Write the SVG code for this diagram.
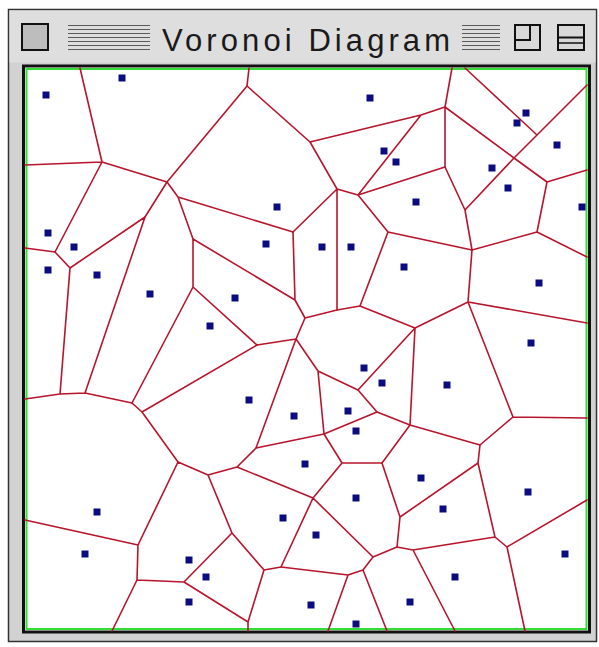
<svg xmlns="http://www.w3.org/2000/svg" width="599" height="647" viewBox="0 0 599 647">
<style>
.edge{stroke:#b8142c;stroke-width:1.6;fill:none;stroke-linecap:round}
.site{fill:#0c0c80}
.stripe{stroke:#5a5a5a;stroke-width:1.2}
.title{font-family:"Liberation Sans","DejaVu Sans",sans-serif;font-size:31px;fill:#1a1a1a}
</style>
<rect x="0" y="0" width="599" height="647" fill="#ffffff"/>
<g id="window">
<rect x="8.5" y="9.5" width="588" height="632" fill="#d2d2d2" stroke="#333" stroke-width="1.5"/>
<rect x="9.5" y="10.5" width="586" height="52" fill="#dedede"/>
<rect x="22" y="24" width="26" height="26" fill="#bdbdbd" stroke="#111" stroke-width="2"/>
<g id="stripes-left">
<line class="stripe" x1="68" y1="25.5" x2="150" y2="25.5"/>
<line class="stripe" x1="68" y1="29.5" x2="150" y2="29.5"/>
<line class="stripe" x1="68" y1="33.5" x2="150" y2="33.5"/>
<line class="stripe" x1="68" y1="37.5" x2="150" y2="37.5"/>
<line class="stripe" x1="68" y1="41.5" x2="150" y2="41.5"/>
<line class="stripe" x1="68" y1="45.5" x2="150" y2="45.5"/>
<line class="stripe" x1="68" y1="49.5" x2="150" y2="49.5"/>
</g>
<text class="title" x="162" y="51" textLength="288" lengthAdjust="spacing">Voronoi Diagram</text>
<g id="stripes-right">
<line class="stripe" x1="462" y1="25.5" x2="500" y2="25.5"/>
<line class="stripe" x1="462" y1="29.5" x2="500" y2="29.5"/>
<line class="stripe" x1="462" y1="33.5" x2="500" y2="33.5"/>
<line class="stripe" x1="462" y1="37.5" x2="500" y2="37.5"/>
<line class="stripe" x1="462" y1="41.5" x2="500" y2="41.5"/>
<line class="stripe" x1="462" y1="45.5" x2="500" y2="45.5"/>
<line class="stripe" x1="462" y1="49.5" x2="500" y2="49.5"/>
</g>
<rect x="515" y="25" width="25" height="25" fill="#d8d8d8" stroke="#111" stroke-width="2"/>
<rect x="515" y="25" width="15" height="15" fill="none" stroke="#111" stroke-width="2"/>
<rect x="558" y="25" width="26" height="25" fill="#d8d8d8" stroke="#111" stroke-width="2"/>
<line x1="558" y1="37.5" x2="584" y2="37.5" stroke="#111" stroke-width="2"/>
<line x1="558" y1="43" x2="584" y2="43" stroke="#111" stroke-width="1.5"/>
<rect x="23.5" y="66" width="566" height="566" fill="#ffffff" stroke="#111" stroke-width="3"/>
<rect x="26.5" y="69" width="560" height="560" fill="#ffffff" stroke="#33dd33" stroke-width="2"/>
</g>
<g id="edges">
<path class="edge" d="M80,68 L102,162 M25,165 L102,162 M102,162 L167,182 M102,162 L55,252 M167,182 L247,86 M247,86 L249,68 M167,182 L178,197 M167,182 L145,217 M178,197 L293,232 M178,197 L193,239"/>
<path class="edge" d="M247,86 L310,142 M310,142 L421,115 M421,115 L445,107 M310,142 L337,189 M337,189 L293,232 M337,189 L358,195 M337,189 L337,310 M358,195 L421,115 M358,195 L445,167 M358,195 L388,232 M388,232 L360,306 M388,232 L472,250"/>
<path class="edge" d="M293,232 L295,300 M193,239 L295,300 M193,239 L193,287 M193,287 L132,403 M193,287 L257,345 M295,300 L305,318 M305,318 L337,310 M305,318 L296,339 M337,310 L360,306 M360,306 L415,328"/>
<path class="edge" d="M445,107 L452,68 M445,107 L445,167 M445,107 L514,158 M445,167 L465,210 M465,210 L514,158 M465,210 L472,250 M465,68 L537,135 M537,135 L587,85 M537,135 L514,158 M514,158 L547,182 M547,182 L587,170 M547,182 L537,232 M537,232 L472,250 M537,232 L587,257"/>
<path class="edge" d="M472,250 L468,302 M468,302 L587,323 M468,302 L415,328 M468,302 L513,417 M415,328 L358,390 M415,328 L410,425 M513,417 L587,418 M513,417 L480,445 M410,425 L377,412 M410,425 L382,463 M410,425 L480,445"/>
<path class="edge" d="M55,252 L25,248 M55,252 L70,268 M145,217 L70,268 M145,217 L85,393 M70,268 L60,394 M60,394 L25,399 M60,394 L85,393 M85,393 L132,403 M132,403 L142,412 M142,412 L257,345 M142,412 L178,462"/>
<path class="edge" d="M257,345 L296,339 M296,339 L318,371 M296,339 L256,448 M318,371 L358,390 M318,371 L324,434 M358,390 L377,412 M377,412 L324,434 M324,434 L256,448 M324,434 L342,463 M342,463 L382,463 M342,463 L313,498"/>
<path class="edge" d="M256,448 L237,467 M237,467 L208,475 M237,467 L313,498 M208,475 L178,462 M208,475 L232,533 M178,462 L138,545 M138,545 L25,520 M138,545 L137,580 M137,580 L184,582 M137,580 L112,631 M184,582 L232,533 M184,582 L248,622 M232,533 L264,570 M264,570 L281,567 M264,570 L248,622 M248,622 L248,631"/>
<path class="edge" d="M313,498 L281,567 M313,498 L373,557 M281,567 L348,575 M348,575 L363,570 M348,575 L328,631 M363,570 L373,557 M363,570 L387,631 M373,557 L397,547"/>
<path class="edge" d="M382,463 L400,517 M400,517 L397,547 M400,517 L478,463 M478,463 L480,445 M478,463 L495,537 M495,537 L507,547 M495,537 L413,550 M507,547 L587,500 M507,547 L525,631 M397,547 L413,550 M413,550 L455,631"/>
</g>
<g id="sites">
<g id="site-1"><rect class="site" x="42.5" y="91.5" width="7" height="7"/></g>
<g id="site-2"><rect class="site" x="118.5" y="74.5" width="7" height="7"/></g>
<g id="site-3"><rect class="site" x="366.5" y="94.5" width="7" height="7"/></g>
<g id="site-4"><rect class="site" x="522.5" y="109.5" width="7" height="7"/></g>
<g id="site-5"><rect class="site" x="513.5" y="119.5" width="7" height="7"/></g>
<g id="site-6"><rect class="site" x="553.5" y="141.5" width="7" height="7"/></g>
<g id="site-7"><rect class="site" x="380.5" y="147.5" width="7" height="7"/></g>
<g id="site-8"><rect class="site" x="392.5" y="158.5" width="7" height="7"/></g>
<g id="site-9"><rect class="site" x="488.5" y="164.5" width="7" height="7"/></g>
<g id="site-10"><rect class="site" x="504.5" y="184.5" width="7" height="7"/></g>
<g id="site-11"><rect class="site" x="578.5" y="203.5" width="7" height="7"/></g>
<g id="site-12"><rect class="site" x="273.5" y="203.5" width="7" height="7"/></g>
<g id="site-13"><rect class="site" x="412.5" y="198.5" width="7" height="7"/></g>
<g id="site-14"><rect class="site" x="44.5" y="229.5" width="7" height="7"/></g>
<g id="site-15"><rect class="site" x="70.5" y="243.5" width="7" height="7"/></g>
<g id="site-16"><rect class="site" x="262.5" y="240.5" width="7" height="7"/></g>
<g id="site-17"><rect class="site" x="318.5" y="243.5" width="7" height="7"/></g>
<g id="site-18"><rect class="site" x="347.5" y="243.5" width="7" height="7"/></g>
<g id="site-19"><rect class="site" x="44.5" y="266.5" width="7" height="7"/></g>
<g id="site-20"><rect class="site" x="93.5" y="271.5" width="7" height="7"/></g>
<g id="site-21"><rect class="site" x="400.5" y="263.5" width="7" height="7"/></g>
<g id="site-22"><rect class="site" x="535.5" y="279.5" width="7" height="7"/></g>
<g id="site-23"><rect class="site" x="146.5" y="290.5" width="7" height="7"/></g>
<g id="site-24"><rect class="site" x="231.5" y="294.5" width="7" height="7"/></g>
<g id="site-25"><rect class="site" x="206.5" y="322.5" width="7" height="7"/></g>
<g id="site-26"><rect class="site" x="527.5" y="339.5" width="7" height="7"/></g>
<g id="site-27"><rect class="site" x="360.5" y="364.5" width="7" height="7"/></g>
<g id="site-28"><rect class="site" x="378.5" y="379.5" width="7" height="7"/></g>
<g id="site-29"><rect class="site" x="443.5" y="381.5" width="7" height="7"/></g>
<g id="site-30"><rect class="site" x="245.5" y="396.5" width="7" height="7"/></g>
<g id="site-31"><rect class="site" x="344.5" y="407.5" width="7" height="7"/></g>
<g id="site-32"><rect class="site" x="290.5" y="412.5" width="7" height="7"/></g>
<g id="site-33"><rect class="site" x="352.5" y="427.5" width="7" height="7"/></g>
<g id="site-34"><rect class="site" x="301.5" y="460.5" width="7" height="7"/></g>
<g id="site-35"><rect class="site" x="417.5" y="474.5" width="7" height="7"/></g>
<g id="site-36"><rect class="site" x="524.5" y="488.5" width="7" height="7"/></g>
<g id="site-37"><rect class="site" x="352.5" y="494.5" width="7" height="7"/></g>
<g id="site-38"><rect class="site" x="93.5" y="508.5" width="7" height="7"/></g>
<g id="site-39"><rect class="site" x="439.5" y="505.5" width="7" height="7"/></g>
<g id="site-40"><rect class="site" x="279.5" y="514.5" width="7" height="7"/></g>
<g id="site-41"><rect class="site" x="312.5" y="531.5" width="7" height="7"/></g>
<g id="site-42"><rect class="site" x="81.5" y="550.5" width="7" height="7"/></g>
<g id="site-43"><rect class="site" x="185.5" y="556.5" width="7" height="7"/></g>
<g id="site-44"><rect class="site" x="561.5" y="550.5" width="7" height="7"/></g>
<g id="site-45"><rect class="site" x="202.5" y="573.5" width="7" height="7"/></g>
<g id="site-46"><rect class="site" x="451.5" y="573.5" width="7" height="7"/></g>
<g id="site-47"><rect class="site" x="185.5" y="598.5" width="7" height="7"/></g>
<g id="site-48"><rect class="site" x="406.5" y="598.5" width="7" height="7"/></g>
<g id="site-49"><rect class="site" x="307.5" y="601.5" width="7" height="7"/></g>
<g id="site-50"><rect class="site" x="352.5" y="620.5" width="7" height="7"/></g>
</g>
</svg>
